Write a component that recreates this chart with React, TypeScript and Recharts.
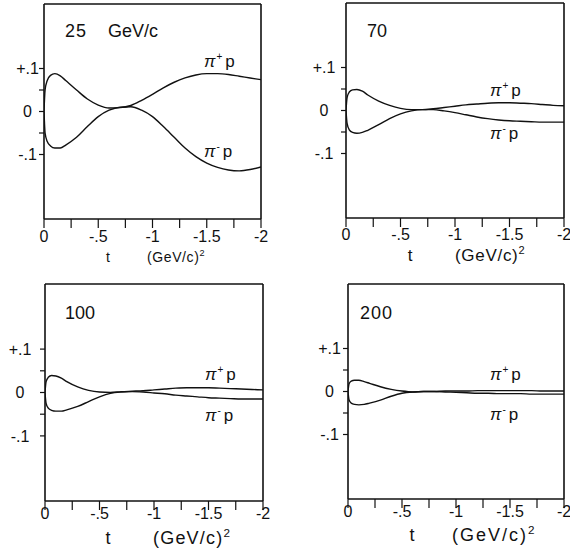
import React from "react";
import { LineChart, Line, XAxis, YAxis } from "recharts";

// t values (GeV/c)^2
const T_VALUES = [0, -0.01, -0.03, -0.06, -0.1, -0.15, -0.2, -0.3, -0.4, -0.5, -0.6, -0.7, -0.8, -0.9, -1.0, -1.1, -1.2, -1.3, -1.4, -1.5, -1.6, -1.7, -1.8, -1.9, -2.0];

// 25 GeV/c
const PIP_25 = [0, 0.05, 0.072, 0.084, 0.088, 0.083, 0.072, 0.05, 0.029, 0.015, 0.008, 0.009, 0.014, 0.026, 0.04, 0.055, 0.068, 0.078, 0.085, 0.088, 0.088, 0.086, 0.082, 0.078, 0.074];
const PIM_25 = [0, -0.05, -0.07, -0.08, -0.085, -0.085, -0.078, -0.06, -0.035, -0.012, 0.003, 0.01, 0.011, 0.003, -0.012, -0.035, -0.06, -0.085, -0.105, -0.12, -0.13, -0.136, -0.138, -0.135, -0.129];
// 70 GeV/c
const PIP_70 = [0, 0.03, 0.043, 0.048, 0.049, 0.045, 0.036, 0.022, 0.012, 0.005, 0.002, 0.002, 0.004, 0.007, 0.01, 0.013, 0.015, 0.017, 0.018, 0.018, 0.017, 0.016, 0.014, 0.012, 0.011];
const PIM_70 = [0, -0.03, -0.045, -0.051, -0.053, -0.051, -0.046, -0.033, -0.019, -0.008, -0.001, 0.002, 0.002, -0.001, -0.005, -0.01, -0.015, -0.019, -0.022, -0.024, -0.025, -0.026, -0.027, -0.027, -0.027];
// 100 GeV/c
const PIP_100 = [0, 0.025, 0.035, 0.039, 0.038, 0.033, 0.025, 0.013, 0.005, 0.001, 0.0, 0.002, 0.003, 0.004, 0.006, 0.008, 0.01, 0.011, 0.011, 0.011, 0.01, 0.009, 0.008, 0.007, 0.006];
const PIM_100 = [0, -0.025, -0.036, -0.041, -0.043, -0.043, -0.04, -0.032, -0.021, -0.01, -0.002, 0.001, 0.002, 0.001, -0.001, -0.003, -0.006, -0.008, -0.01, -0.012, -0.013, -0.014, -0.015, -0.015, -0.015];
// 200 GeV/c
const PIP_200 = [0, 0.018, 0.024, 0.026, 0.026, 0.023, 0.019, 0.011, 0.005, 0.001, -0.001, 0.0, 0.0, 0.001, 0.001, 0.001, 0.002, 0.002, 0.002, 0.002, 0.002, 0.002, 0.001, 0.001, 0.001];
const PIM_200 = [0, -0.02, -0.027, -0.03, -0.031, -0.03, -0.027, -0.02, -0.011, -0.004, -0.001, 0.0, 0.0, -0.001, -0.002, -0.003, -0.004, -0.004, -0.005, -0.005, -0.005, -0.006, -0.006, -0.006, -0.006];

const X_TICKS = [0, -0.25, -0.5, -0.75, -1, -1.25, -1.5, -1.75, -2];
const Y_TICKS = [0.1, 0.05, 0, -0.05, -0.1];
const X_DOMAIN = [-2, 0];
const Y_DOMAIN = [-0.25, 0.25];

const FONT = "'Liberation Sans', Arial, sans-serif";
const INK = "#111";
const Y_AXIS_W = 30;

const fmtX = (v: number) => {
  if (Math.abs(v * 2 - Math.round(v * 2)) > 1e-9) return "";
  if (v === 0) return "0";
  return "-" + String(Math.abs(v)).replace(/^0/, "");
};
const fmtY = (v: number) => {
  if (Math.abs(v - 0.1) < 1e-9) return "+.1";
  if (Math.abs(v + 0.1) < 1e-9) return "-.1";
  if (Math.abs(v) < 1e-9) return "0";
  return "";
};

const build = (pip: number[], pim: number[]) =>
  T_VALUES.map((t, i) => ({ t, pip: pip[i], pim: pim[i] }));

// plot box (local to each 285x274 cell): left, right gap, top, bottom gap
const PANELS = [
  { key: "25", left: 0, top: 0, box: { l: 44, r: 24, t: 4, b: 55 }, pip: PIP_25, pim: PIM_25, yLab: 16.5, xLab: 14 },
  { key: "70", left: 285, top: 0, box: { l: 61, r: 6, t: 3, b: 56 }, pip: PIP_70, pim: PIM_70, yLab: 22, xLab: 13 },
  { key: "100", left: 0, top: 274, box: { l: 45, r: 22, t: 10, b: 47 }, pip: PIP_100, pim: PIM_100, yLab: 25, xLab: 9 },
  { key: "200", left: 285, top: 274, box: { l: 63, r: 6, t: 10, b: 49 }, pip: PIP_200, pim: PIM_200, yLab: 18.5, xLab: 9 },
];

function Panel(p: any) {
  const data = build(p.pip, p.pim);
  const axisLine = { stroke: INK, strokeWidth: 1.6 };
  const tickLine = { stroke: INK, strokeWidth: 1.2 };
  const margin = { top: p.box.t - 1, right: p.box.r - 1, bottom: p.box.b - 30, left: p.box.l - Y_AXIS_W };
  return (
    <div style={{ position: "absolute", left: p.left, top: p.top }}>
      <LineChart width={285} height={274} data={data} margin={margin}>
        <XAxis
          dataKey="t"
          type="number"
          domain={X_DOMAIN}
          reversed
          allowDataOverflow
          ticks={X_TICKS}
          interval={0}
          height={30}
          tickSize={9}
          tickMargin={0}
          axisLine={axisLine}
          tickLine={tickLine}
          tick={(tp: any) => (
            <text x={tp.x} y={tp.y + p.xLab} textAnchor="middle" fontFamily={FONT} fontSize={16} fill={INK}>
              {fmtX(tp.payload.value)}
            </text>
          )}
        />
        <XAxis xAxisId="top" orientation="top" type="number" domain={X_DOMAIN} reversed allowDataOverflow height={1} tick={false} tickLine={false} axisLine={axisLine} />
        <YAxis
          type="number"
          domain={Y_DOMAIN}
          allowDataOverflow
          ticks={Y_TICKS}
          interval={0}
          width={Y_AXIS_W}
          tickSize={5}
          tickMargin={0}
          axisLine={axisLine}
          tickLine={tickLine}
          tick={(tp: any) => (
            <text x={tp.x + 5 - p.yLab} y={tp.y} dy="0.35em" textAnchor="middle" fontFamily={FONT} fontSize={16} fill={INK}>
              {fmtY(tp.payload.value)}
            </text>
          )}
        />
        <YAxis yAxisId="right" orientation="right" type="number" domain={Y_DOMAIN} allowDataOverflow width={1} tick={false} tickLine={false} axisLine={axisLine} />
        <Line dataKey="pip" type="monotone" stroke={INK} strokeWidth={1.4} dot={false} isAnimationActive={false} />
        <Line dataKey="pim" type="monotone" stroke={INK} strokeWidth={1.4} dot={false} isAnimationActive={false} />
      </LineChart>
    </div>
  );
}

function PiLabel({ x, y, sign }: { x: number; y: number; sign: string }) {
  return (
    <text x={x} y={y} fontFamily={FONT} fontSize={17} fill={INK}>
      <tspan fontStyle="italic">π</tspan>
      <tspan fontSize={10} dy={-7} dx={1}>{sign}</tspan>
      <tspan dy={7} dx={3}>p</tspan>
    </text>
  );
}

function AxisTitle({ tx, gx, y, size, spacing }: { tx: number; gx: number; y: number; size: number; spacing: number }) {
  return (
    <g fontFamily={FONT} fill={INK}>
      <text x={tx} y={y} fontSize={size} textAnchor="middle">t</text>
      <text x={gx} y={y} fontSize={size} letterSpacing={spacing}>
        (GeV/c)<tspan fontSize={size * 0.65} dy={-size * 0.4}>2</tspan>
      </text>
    </g>
  );
}

export default function App() {
  return (
    <div style={{ position: "absolute", left: 0, top: 0, width: 570, height: 548, background: "#fff" }}>
      {PANELS.map((p) => (
        <Panel key={p.key} {...p} />
      ))}
      <svg width={570} height={548} style={{ position: "absolute", left: 0, top: 0, pointerEvents: "none" }}>
        <g fontFamily={FONT} fill={INK} fontSize={18}>
          <text x={65} y={37} letterSpacing={1}>25</text>
          <text x={108} y={37}>GeV/c</text>
          <text x={367} y={37}>70</text>
          <text x={65} y={319}>100</text>
          <text x={360} y={319} letterSpacing={1}>200</text>
        </g>
        <PiLabel x={204} y={67} sign="+" />
        <PiLabel x={204} y={157} sign="-" />
        <PiLabel x={490} y={96} sign="+" />
        <PiLabel x={490} y={139} sign="-" />
        <PiLabel x={205} y={380} sign="+" />
        <PiLabel x={205} y={421} sign="-" />
        <PiLabel x={490} y={380} sign="+" />
        <PiLabel x={490} y={420} sign="-" />
        <AxisTitle tx={108} gx={147} y={262} size={14} spacing={0.6} />
        <AxisTitle tx={410} gx={455} y={261} size={17} spacing={0.7} />
        <AxisTitle tx={108} gx={153} y={544} size={18} spacing={1.2} />
        <AxisTitle tx={412} gx={452} y={541} size={18} spacing={2} />
      </svg>
    </div>
  );
}
